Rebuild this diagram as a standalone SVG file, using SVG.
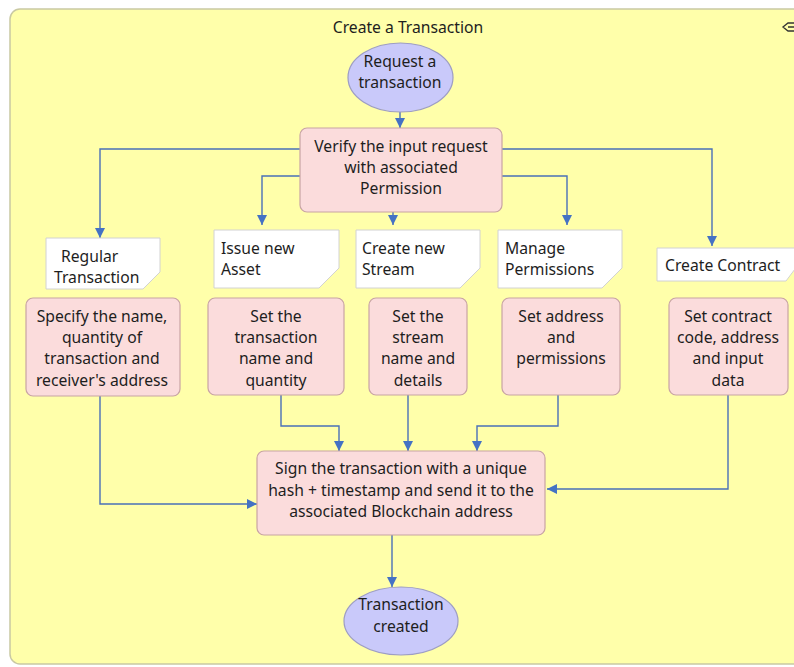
<svg xmlns="http://www.w3.org/2000/svg" width="794" height="667" viewBox="0 0 794 667">
  <defs>
    <marker id="arr" viewBox="0 0 10 10" refX="10" refY="5" markerWidth="10" markerHeight="10" markerUnits="userSpaceOnUse" orient="auto">
      <path d="M0,0 L10,5 L0,10 Z" fill="#4472c4"/>
    </marker>
    <style>
      .lane { fill: #ffffaa; stroke: #c9c9a2; stroke-width: 1.5; }
      .proc { fill: #fbdcdc; stroke: #c8a4a4; stroke-width: 1.2; }
      .term { fill: #c9c9fa; stroke: #9d9dc4; stroke-width: 1.2; }
      .doc { fill: #ffffff; stroke: #d2d2d2; stroke-width: 1; }
      .edge { fill: none; stroke: #4a70b8; stroke-width: 1.4; marker-end: url(#arr); }
      text { font-family: "Noto Sans", "Open Sans", "DejaVu Sans", sans-serif; font-size: 15.7px; fill: #1e1e1e; }
      .c { text-anchor: middle; }
    </style>
  </defs>

  <rect width="794" height="667" fill="#ffffff"/>

  <!-- swimlane container -->
  <g id="lane">
    <rect class="lane" x="10" y="9" width="800" height="655" rx="10"/>
    <text class="c" x="408" y="33">Create a Transaction</text>
    <!-- collapse handle -->
    <path d="M796,23 H788 L783,27 L788,31 H796 M788,27 H796" fill="none" stroke="#333" stroke-width="1.3"/>
  </g>

  <!-- connectors -->
  <g id="connectors">
    <path class="edge" d="M400,112 V128"/>
    <path class="edge" d="M300,149 H100 V238"/>
    <path class="edge" d="M300,176 H262 V225"/>
    <path class="edge" d="M393,212 V225"/>
    <path class="edge" d="M502,176 H567 V225"/>
    <path class="edge" d="M502,149 H712 V246"/>
    <path class="edge" d="M100,396 V504 H257"/>
    <path class="edge" d="M281,395 V426 H339 V451"/>
    <path class="edge" d="M408,395 V451"/>
    <path class="edge" d="M558,395 V426 H477 V451"/>
    <path class="edge" d="M728,395 V489 H547"/>
    <path class="edge" d="M392,535 V587"/>
  </g>

  <g id="request">
    <ellipse class="term" cx="400.5" cy="77.5" rx="52.5" ry="34.5"/>
    <text class="c" x="400" y="67">Request a</text>
    <text class="c" x="400" y="88">transaction</text>
  </g>

  <g id="verify">
    <rect class="proc" x="300" y="128" width="202" height="84" rx="7"/>
    <text class="c" x="401" y="152">Verify the input request</text>
    <text class="c" x="401" y="173">with associated</text>
    <text class="c" x="401" y="194">Permission</text>
  </g>

  <g id="doc-regular">
    <path class="doc" d="M46,238 H160 V272 L143,289 H46 Z"/>
    <text x="61" y="262">Regular</text>
    <text x="54" y="283">Transaction</text>
  </g>

  <g id="doc-asset">
    <path class="doc" d="M214,230 H339 V268 L319,288 H214 Z"/>
    <text x="221" y="254">Issue new</text>
    <text x="221" y="275">Asset</text>
  </g>

  <g id="doc-stream">
    <path class="doc" d="M356,230 H480 V268 L460,288 H356 Z"/>
    <text x="362" y="254">Create new</text>
    <text x="362" y="275">Stream</text>
  </g>

  <g id="doc-permissions">
    <path class="doc" d="M498,230 H622 V268 L602,288 H498 Z"/>
    <text x="505" y="254">Manage</text>
    <text x="505" y="275">Permissions</text>
  </g>

  <g id="doc-contract">
    <path class="doc" d="M657,248 H795 V269 L786,281 H657 Z"/>
    <text x="665" y="271">Create Contract</text>
  </g>

  <g id="specify">
    <rect class="proc" x="26" y="298" width="154" height="98" rx="7"/>
    <text class="c" x="102" y="322">Specify the name,</text>
    <text class="c" x="102" y="343">quantity of</text>
    <text class="c" x="102" y="364">transaction and</text>
    <text class="c" x="102" y="386">receiver's address</text>
  </g>

  <g id="set-transaction">
    <rect class="proc" x="208" y="298" width="136" height="97" rx="7"/>
    <text class="c" x="276" y="322">Set the</text>
    <text class="c" x="276" y="343">transaction</text>
    <text class="c" x="276" y="364">name and</text>
    <text class="c" x="276" y="386">quantity</text>
  </g>

  <g id="set-stream">
    <rect class="proc" x="369" y="298" width="98" height="97" rx="7"/>
    <text class="c" x="418" y="322">Set the</text>
    <text class="c" x="418" y="343">stream</text>
    <text class="c" x="418" y="364">name and</text>
    <text class="c" x="418" y="386">details</text>
  </g>

  <g id="set-permissions">
    <rect class="proc" x="502" y="298" width="118" height="97" rx="7"/>
    <text class="c" x="561" y="322">Set address</text>
    <text class="c" x="561" y="343">and</text>
    <text class="c" x="561" y="364">permissions</text>
  </g>

  <g id="set-contract">
    <rect class="proc" x="669" y="298" width="119" height="97" rx="7"/>
    <text class="c" x="728" y="322">Set contract</text>
    <text class="c" x="728" y="343">code, address</text>
    <text class="c" x="728" y="364">and input</text>
    <text class="c" x="728" y="386">data</text>
  </g>

  <g id="sign">
    <rect class="proc" x="257" y="451" width="288" height="84" rx="7"/>
    <text class="c" x="401" y="474">Sign the transaction with a unique</text>
    <text class="c" x="401" y="496">hash + timestamp and send it to the</text>
    <text class="c" x="401" y="517">associated Blockchain address</text>
  </g>

  <g id="created">
    <ellipse class="term" cx="401" cy="621" rx="57" ry="34"/>
    <text class="c" x="401" y="610">Transaction</text>
    <text class="c" x="401" y="632">created</text>
  </g>
</svg>
